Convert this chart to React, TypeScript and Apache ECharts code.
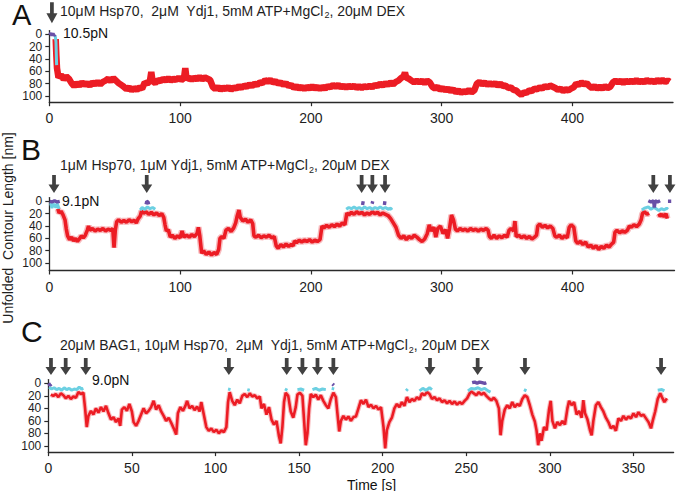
import React, { useEffect, useRef } from "react";
import * as echarts from "echarts";

const FONT = '"Liberation Sans", Arial, Helvetica, sans-serif';

const yTicks = [0, 20, 40, 60, 80, 100];
const xTicksAB = [0, 100, 200, 300, 400];
const xTicksC = [0, 50, 100, 150, 200, 250, 300, 350];

const aArrowTimes = [2];
const bArrowTimes = [3.6, 74.5, 238.8, 247, 256.7, 461.8, 474.5];
const cArrowTimes = [1.6, 10.4, 22.4, 108, 142.6, 152, 161, 170.5, 228.3, 256.8, 285.1, 366.5];

const aPurple = [[0.3, 1], [1.2, -2], [2, 2], [2.8, -1], [3.6, 2], [4.5, 0]];
const aCyan = [[4.5, 2], [5.1, 12], [5.6, 50]];
const aRed = [
  [4.9, 8], [5.4, 35], [5.9, 55], [7, 70], [9, 66], [11, 73], [13, 68], [15, 72], [17, 79], [19, 84], [21, 79], [23, 83], [25, 78], [27, 82], [29, 79], [31, 83], [33, 78], [35, 81], [37, 77], [39, 81], [41, 77], [43, 75], [45, 72], [47, 76], [49, 71], [51, 75], [53, 79], [55, 82], [57, 85], [59, 89], [61, 86], [63, 91], [65, 87], [67, 90], [69, 86], [71, 88], [73, 78], [75, 80], [77, 75], [78, 61], [79, 76], [81, 79], [83, 74], [85, 76], [87, 72], [89, 75], [91, 71], [93, 75], [95, 72], [97, 74], [99, 70], [101, 74], [103, 71], [104, 55], [105, 73], [107, 70], [109, 74], [111, 70], [113, 73], [115, 69], [117, 73], [119, 70], [121, 72], [123, 74], [125, 85], [127, 89], [129, 85], [131, 90], [133, 86], [135, 89], [137, 85], [139, 90], [141, 86], [143, 88], [145, 84], [147, 87], [149, 83], [151, 85], [153, 81], [155, 84], [157, 80], [159, 82], [161, 78], [163, 79], [165, 74], [167, 77], [169, 74], [171, 78], [173, 76], [175, 80], [177, 78], [179, 82], [181, 79], [183, 84], [185, 82], [187, 87], [189, 84], [191, 88], [193, 85], [195, 89], [197, 85], [199, 88], [201, 84], [203, 88], [205, 85], [207, 89], [209, 85], [211, 88], [213, 84], [215, 86], [217, 82], [219, 85], [221, 82], [223, 86], [225, 83], [227, 87], [229, 83], [231, 86], [233, 83], [235, 87], [237, 84], [239, 87], [241, 84], [243, 86], [245, 83], [247, 86], [249, 82], [251, 84], [253, 80], [255, 83], [257, 79], [259, 82], [261, 78], [263, 81], [265, 77], [267, 75], [269, 71], [271, 68], [272, 62], [273, 70], [275, 72], [277, 75], [279, 78], [281, 75], [283, 78], [285, 75], [287, 79], [289, 75], [291, 78], [293, 85], [295, 88], [297, 85], [299, 90], [301, 87], [303, 91], [305, 88], [307, 92], [309, 89], [311, 94], [313, 91], [315, 95], [317, 92], [319, 94], [321, 90], [323, 94], [325, 91], [327, 80], [329, 77], [331, 81], [333, 78], [335, 82], [337, 79], [339, 82], [341, 79], [343, 83], [345, 80], [347, 84], [349, 83], [351, 87], [353, 86], [355, 90], [357, 91], [359, 95], [361, 98], [363, 94], [365, 95], [367, 91], [369, 92], [371, 88], [373, 89], [375, 86], [377, 88], [379, 84], [381, 86], [383, 83], [385, 85], [387, 87], [389, 90], [391, 88], [393, 92], [395, 89], [397, 91], [399, 88], [401, 86], [403, 80], [405, 82], [407, 78], [409, 81], [411, 79], [413, 84], [415, 87], [417, 84], [419, 88], [421, 85], [423, 88], [425, 84], [427, 87], [429, 85], [431, 78], [433, 75], [435, 78], [437, 75], [439, 79], [441, 75], [443, 78], [445, 75], [447, 78], [449, 74], [451, 78], [453, 75], [455, 78], [457, 74], [459, 77], [461, 75], [463, 78], [465, 74], [467, 77], [469, 74], [471, 77], [473, 75], [474.5, 77]
];

const bPurple = [
  [0.3, 0], [2, 1], [4, -1], [6, 1], [8, 0], [8.2, "-"],
  [74, 5], [74.5, 0], [75.5, 1], [76, 5], [76.2, "-"],
  [239.5, 6], [240, 0], [240.3, "-"],
  [246.8, 4], [247.3, 0], [247.6, "-"],
  [256.2, 6], [256.6, 0], [256.9, "-"],
  [458, -1], [460, 1], [462, -1], [462.6, 10], [463.2, -1], [465, 1], [467, -1], [467.2, "-"],
  [473, 0], [475.5, 0]
];
const bCyan = [
  [1, 3], [2, 11], [3, 4], [5, 10], [6, 3], [7.5, 12], [7.8, "-"],
  [69.5, 14], [71, 10], [73, 13], [75, 9], [77, 12], [79, 10], [81, 13], [81.2, "-"],
  [227, 13], [229, 10], [231, 12], [233, 9], [235, 12], [237, 10], [239, 13], [241, 9], [243, 12], [245, 10], [247, 13], [249, 10], [251, 12], [253, 9], [255, 12], [257, 10], [259, 13], [261, 11], [262, 14], [262.2, "-"],
  [453, 14], [455, 11], [458, 9], [460, 13], [462, 10], [464, 12], [466, 15], [468, 12], [470, 14], [472, 11], [473, 13]
];
const bRed = [
  [6.5, 12], [7.5, 19], [9, 16], [10.5, 22], [12, 30], [13, 45], [14, 56], [15.5, 62], [17, 58], [18.5, 64], [20, 60], [21.5, 65], [23, 61], [24.5, 56], [26, 59], [27.5, 55], [29, 47], [30, 40], [31, 47], [33, 44], [35, 48], [37, 45], [39, 47], [41, 44], [43, 48], [45, 45], [47, 47], [48.5, 44], [49.5, 75], [50.5, 46], [51.5, 33], [53, 30], [55, 34], [57, 31], [59, 34], [61, 30], [63, 33], [65, 31], [66.5, 35], [68, 28], [69.5, 24], [70.5, 16], [72, 19], [74, 17], [76, 21], [78, 18], [80, 22], [82, 19], [84, 23], [86, 20], [87.5, 26], [88.5, 38], [89.5, 48], [91, 46], [92.5, 58], [94, 55], [96, 60], [98, 56], [100, 59], [101.5, 48], [103, 58], [105, 55], [107, 58], [109, 54], [111, 57], [113, 52], [114, 42], [115, 55], [116.5, 84], [118, 80], [120, 86], [122, 82], [124, 87], [126, 83], [128, 86], [129.5, 78], [130.5, 60], [132, 57], [133.5, 60], [135, 47], [137, 44], [139, 49], [141, 43], [142.5, 35], [143.5, 25], [145, 14], [146, 26], [148, 32], [150, 29], [152, 34], [154, 30], [155.5, 36], [156.5, 56], [158, 58], [160, 55], [162, 59], [164, 56], [166, 58], [168, 55], [170, 59], [172, 57], [173.5, 72], [175, 76], [177, 70], [179, 74], [181, 69], [183, 73], [185, 70], [186.5, 72], [187.5, 64], [189, 67], [191, 63], [193, 66], [195, 63], [197, 65], [199, 62], [201, 66], [203, 63], [205, 65], [207, 62], [208.5, 40], [210, 43], [212, 39], [214, 42], [216, 38], [218, 41], [220, 37], [222, 40], [224, 35], [226, 38], [227.5, 19], [229, 22], [231, 18], [233, 21], [235, 17], [237, 20], [239, 18], [241, 22], [243, 19], [245, 21], [247, 17], [249, 20], [251, 18], [253, 22], [255, 19], [257, 21], [259, 23], [261, 28], [263, 35], [265, 42], [267, 55], [269, 60], [271, 56], [273, 62], [275, 57], [277, 60], [279, 55], [281, 58], [283, 62], [285, 65], [287, 61], [289, 52], [290.5, 38], [292, 48], [294, 42], [295.5, 58], [297, 44], [299, 40], [301, 52], [303, 46], [304.5, 60], [306, 44], [307.5, 22], [309, 30], [310.5, 45], [312, 48], [314, 44], [316, 47], [318, 45], [320, 48], [322, 44], [324, 47], [326, 45], [328, 48], [330, 45], [332, 47], [334, 44], [335.5, 47], [336.5, 57], [338, 60], [340, 55], [342, 60], [344, 56], [346, 59], [348, 55], [350, 58], [351.5, 47], [353, 44], [355, 48], [356, 32], [357, 57], [359, 55], [361, 59], [363, 56], [365, 60], [367, 57], [369, 61], [371, 58], [372.5, 55], [373.5, 40], [375, 37], [377, 42], [379, 39], [381, 43], [383, 40], [385, 44], [386.5, 56], [388, 58], [390, 55], [392, 60], [394, 56], [396, 59], [397.5, 42], [399, 38], [401, 42], [402.5, 64], [404, 68], [406, 65], [408, 70], [410, 66], [412, 74], [414, 71], [416, 76], [418, 72], [420, 78], [422, 73], [424, 76], [426, 71], [428, 74], [430, 69], [431.5, 66], [432.5, 50], [434, 47], [436, 51], [438, 48], [440, 50], [442, 47], [443.5, 40], [445, 42], [447, 38], [449, 41], [451, 37], [452.5, 30], [453.5, 20], [455, 17], [457, 21], [458.5, 19], [459, "-"],
  [466, 20], [467, 24], [468.5, 21], [470, 25], [471.5, 20], [472.5, 28]
];

const cPurple = [
  [0.2, 0], [1, 3], [1.8, 1], [2, "-"],
  [170, 1], [170.8, 3], [171, "-"],
  [253.5, -1], [255, -2], [256.5, 0], [258, -2], [259.5, -1], [261, 0], [262, -1]
];
const cCyan = [
  [0.5, 6], [2, 9], [3.5, 7], [5, 10], [6.5, 8], [8, 11], [9.5, 7], [11, 10], [12.5, 8], [14, 11], [15.5, 9], [17, 10], [18.5, 6], [20, 9], [21, 8], [21.2, "-"],
  [107.5, 9], [109, 10], [109.2, "-"],
  [119, 10], [120.5, 11], [120.7, "-"],
  [141.5, 9], [143, 11], [143.2, "-"],
  [149, 10], [151, 9], [153, 11], [153.2, "-"],
  [158, 10], [160, 8], [162, 11], [164, 9], [166, 10], [166.2, "-"],
  [169.5, 8], [171, 9], [171.2, "-"],
  [214, 12], [215, 9], [215.2, "-"],
  [222, 12], [224, 8], [226, 11], [228, 7], [229.5, 10], [229.7, "-"],
  [251, 12], [253, 8], [255, 9], [257, 7], [259, 10], [261, 8], [263, 12], [264.5, 14], [264.7, "-"],
  [284.5, 10], [286, 12], [286.2, "-"],
  [364.5, 11], [367, 10], [368.5, 12]
];
const cRed = [
  [1.5, 18], [3, 20], [4.5, 17], [6, 22], [7.5, 16], [9, 19], [10.5, 24], [12, 20], [13.5, 25], [15, 21], [16.5, 23], [18, 14], [19.5, 17], [21, 15], [22, 40], [23, 70], [24, 52], [25.5, 44], [27, 50], [28.5, 40], [30, 47], [31.5, 38], [33, 45], [34.5, 36], [36, 48], [37.5, 58], [39, 54], [40.5, 62], [42, 56], [43, 68], [44, 42], [45.5, 38], [47, 44], [48.5, 33], [50, 45], [51, 62], [52.5, 68], [54, 60], [55.5, 50], [57, 40], [58.5, 48], [60, 44], [61.5, 38], [63, 28], [64.5, 42], [66, 35], [67.5, 45], [69, 52], [70.5, 60], [72, 55], [73.5, 63], [75, 72], [76.5, 82], [77.5, 48], [79, 38], [80.5, 44], [82, 36], [83, 28], [84.5, 40], [86, 36], [87.5, 43], [89, 37], [90.5, 45], [91.5, 30], [93, 50], [94.5, 70], [96, 76], [97.5, 72], [99, 78], [100.5, 74], [102, 80], [103.5, 75], [105, 78], [106.5, 70], [107.5, 30], [108.5, 14], [110, 28], [111.5, 35], [113, 26], [114.5, 32], [116, 20], [117.5, 17], [119, 22], [120.5, 16], [122, 21], [123.5, 19], [125, 24], [126.5, 21], [127.5, 40], [129, 33], [130.5, 50], [132, 38], [133.5, 58], [135, 66], [136.5, 60], [138, 85], [139, 96], [140, 70], [141, 30], [142, 15], [143.5, 20], [145, 45], [146.5, 55], [148, 38], [149, 18], [150.5, 15], [152, 20], [153, 60], [154, 99], [155, 80], [156, 40], [157, 17], [158.5, 22], [160, 18], [161.5, 26], [163, 19], [164.5, 28], [166, 35], [167.5, 40], [169, 25], [170.5, 15], [172, 22], [173, 50], [174, 77], [175, 60], [176.5, 52], [178, 58], [179.5, 53], [181, 60], [182.5, 54], [184, 53], [185.5, 40], [187, 27], [188.5, 33], [190, 26], [191.5, 38], [193, 34], [194.5, 40], [196, 36], [197.5, 42], [199, 38], [200.5, 70], [201.5, 104], [202.5, 75], [204, 62], [205.5, 55], [207, 40], [208.5, 33], [210, 38], [211.5, 30], [213, 36], [214.5, 22], [216, 30], [217.5, 25], [219, 28], [220.5, 22], [222, 26], [223.5, 16], [225, 19], [226.5, 14], [228, 17], [229.5, 25], [231, 22], [232.5, 27], [234, 24], [235.5, 30], [237, 27], [238.5, 32], [240, 28], [241.5, 33], [243, 29], [244.5, 34], [246, 30], [247.5, 33], [249, 28], [250.5, 24], [252, 16], [253, 13], [254.5, 16], [256, 19], [257.5, 14], [259, 18], [260.5, 15], [262, 20], [263.5, 24], [265, 27], [266.5, 23], [268, 28], [269.5, 40], [270.5, 83], [271.5, 60], [273, 42], [274.5, 35], [276, 40], [277.5, 30], [279, 38], [280.5, 33], [282, 36], [283.5, 25], [285, 19], [286.5, 22], [288, 35], [289.5, 50], [291, 61], [292, 75], [293, 99], [294, 80], [295, 92], [296.5, 70], [298, 75], [299.5, 42], [300.5, 28], [301.5, 60], [303, 72], [304.5, 62], [306, 67], [307.5, 60], [309, 66], [310.5, 40], [311.5, 28], [313, 35], [314.5, 30], [316, 50], [317.5, 44], [319, 55], [320, 27], [321, 48], [322.5, 58], [324, 75], [325, 83], [326, 60], [327.5, 35], [329, 30], [330.5, 38], [332, 45], [333.5, 55], [335, 62], [336.5, 72], [338, 68], [339.5, 76], [341, 56], [342.5, 60], [344, 52], [345.5, 58], [347, 53], [348.5, 56], [350, 48], [351.5, 54], [353, 46], [354.5, 52], [356, 50], [357.5, 56], [359, 62], [360.5, 72], [361.5, 60], [363, 45], [364.5, 25], [366, 16], [367, 22], [368.5, 30], [370, 24]
];

const RED = "#ec1c24";
const HALO = "rgba(242,120,126,0.5)";
const CYAN = "#6cd0e2";
const PURPLE = "#6a50a7";
const ARROW = "path://M3.3,0 L6.7,0 L6.7,9.5 L10,9.5 L5,18 L0,9.5 L3.3,9.5 Z";

const panels = [
  { grid: { left: 49.3, top: 30.6, width: 623.7, height: 71.6 }, xMax: 477, yMax: 110, xTicks: xTicksAB,
    red: aRed, redW: 6.5, halo: 0, cyan: aCyan, purple: aPurple, arrows: aArrowTimes, arrowY: -35, arrowH: 21 },
  { grid: { left: 49.3, top: 197.6, width: 625.2, height: 72.9 }, xMax: 478, yMax: 112, xTicks: xTicksAB,
    red: bRed, redW: 3.6, halo: 6.5, cyan: bCyan, purple: bPurple, arrows: bArrowTimes, arrowY: -28, arrowH: 18 },
  { grid: { left: 48.3, top: 379.6, width: 625.3, height: 72.5 }, xMax: 374, yMax: 110, xTicks: xTicksC,
    red: cRed, redW: 2.6, halo: 4.8, cyan: cCyan, purple: cPurple, arrows: cArrowTimes, arrowY: -27, arrowH: 17 },
];

const AXIS_COLOR = "#2a2a2a";
const labelStyle = { fontSize: 14, color: "#1e1e1e", fontFamily: FONT, interval: 0, hideOverlap: false, showMinLabel: true, showMaxLabel: true };

function buildOption() {
  const grid: any[] = [];
  const xAxis: any[] = [];
  const yAxis: any[] = [];
  const series: any[] = [];
  // y tick labels are split over two stacked axes (alternate ticks) so none get culled for overlap
  const evenTicks = yTicks.filter((_, k) => k % 2 === 0);
  const oddTicks = yTicks.filter((_, k) => k % 2 === 1);
  panels.forEach((p, i) => {
    grid.push(p.grid);
    xAxis.push({
      gridIndex: i, type: "value", min: 0, max: p.xMax,
      axisLine: { show: true, onZero: false, lineStyle: { color: AXIS_COLOR, width: 1.3 } },
      axisTick: { show: true, length: 4, interval: 0, customValues: p.xTicks, lineStyle: { color: AXIS_COLOR, width: 1.2 } },
      axisLabel: { ...labelStyle, margin: 9, customValues: p.xTicks },
      splitLine: { show: false },
    });
    [evenTicks, oddTicks].forEach((ticks, k) => {
      yAxis.push({
        gridIndex: i, type: "value", position: "left", offset: 0, inverse: true, min: -6, max: p.yMax,
        axisLine: { show: k === 0, onZero: false, lineStyle: { color: AXIS_COLOR, width: 1.3 } },
        axisTick: { show: true, length: 4, interval: 0, customValues: ticks, lineStyle: { color: AXIS_COLOR, width: 1.2 } },
        axisLabel: { ...labelStyle, fontSize: 12, lineHeight: 12, margin: 7, customValues: ticks },
        splitLine: { show: false },
      });
    });
    const yi = i * 2;
    const base = { type: "line", xAxisIndex: i, yAxisIndex: yi, symbol: "none", showSymbol: false, silent: true, connectNulls: false };
    if (p.halo) series.push({ ...base, data: p.red, lineStyle: { color: HALO, width: p.halo, join: "bevel" }, z: 1 });
    series.push({ ...base, data: p.red, lineStyle: { color: RED, width: p.redW, join: "bevel" }, z: 2 });
    series.push({ ...base, data: p.cyan, lineStyle: { color: CYAN, width: 3 }, z: 3 });
    series.push({ ...base, data: p.purple, lineStyle: { color: PURPLE, width: 3.4 }, z: 4 });
    series.push({
      type: "scatter", xAxisIndex: i, yAxisIndex: yi, clip: false, silent: true,
      symbol: ARROW, symbolSize: [11, p.arrowH],
      itemStyle: { color: "#111111" },
      data: p.arrows.map((t) => [t, p.arrowY]), z: 5,
    });
  });

  const n = { fontSize: 14, lineHeight: 18, fontFamily: FONT, fill: "#1e1e1e" };
  const s = { fontSize: 9, lineHeight: 10, fontFamily: FONT, fill: "#1e1e1e", verticalAlign: "bottom" };
  const titleText = (x: number, y: number, before: string, after: string) => ({
    type: "text", x, y, silent: true,
    style: {
      text: `{n|${before}}{s|2}{n|${after}}`,
      rich: { n, s }, verticalAlign: "middle", align: "left",
    },
  });
  const plain = (x: number, y: number, text: string, size = 14, lh?: number) => ({
    type: "text", x, y, silent: true,
    style: { text, fontSize: size, lineHeight: lh, fontFamily: FONT, fill: "#111111", verticalAlign: "middle", align: "left" },
  });

  const graphic: any[] = [
    plain(12, 15, "A", 29, 26),
    plain(21, 149, "B", 30, 26),
    plain(21, 331, "C", 30, 26),
    titleText(60, 10.5, "10μM Hsp70,  2μM  Ydj1, 5mM ATP+MgCl", ", 20μM DEX"),
    titleText(60, 165, "1μM Hsp70, 1μM Ydj1, 5mM ATP+MgCl", ", 20μM DEX"),
    titleText(60, 345, "20μM BAG1, 10μM Hsp70,  2μM  Ydj1, 5mM ATP+MgCl", ", 20μM DEX"),
    plain(63, 33, "10.5pN"),
    plain(62, 201, "9.1pN"),
    plain(92, 380, "9.0pN"),
    plain(347, 484.5, "Time [s]", 14, 13),
    {
      type: "text", x: 8, y: 228, rotation: Math.PI / 2, silent: true,
      style: { text: "Unfolded  Contour Length [nm]", fontSize: 14, fontFamily: FONT, fill: "#1e1e1e", align: "center", verticalAlign: "middle" },
    },
  ];

  return { animation: false, backgroundColor: "#ffffff", grid, xAxis, yAxis, series, graphic };
}

export default function App() {
  const ref = useRef<HTMLDivElement>(null);
  useEffect(() => {
    document.body.style.margin = "0";
    const chart = echarts.init(ref.current!, null, { renderer: "svg" });
    chart.setOption(buildOption() as any);
    return () => chart.dispose();
  }, []);
  return <div ref={ref} style={{ width: 677, height: 491 }} />;
}
